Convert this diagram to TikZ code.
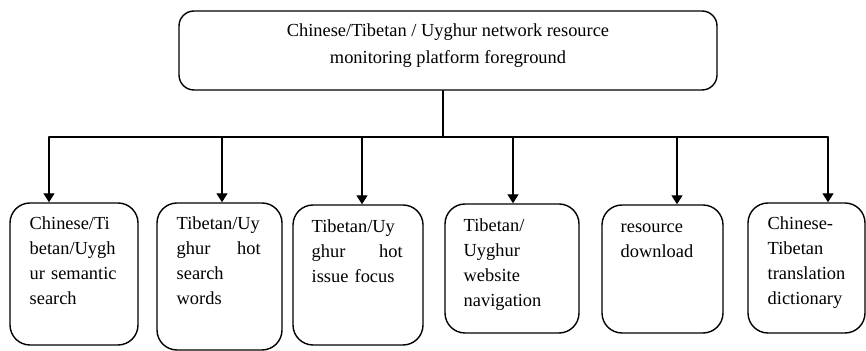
\documentclass[tikz,border=0pt]{standalone}
\usepackage{fontspec}
\setmainfont{Liberation Serif}
\usetikzlibrary{arrows.meta, positioning}

\tikzset{
  frame/.style={draw, line width=0.7pt, inner sep=0pt},
  headbox/.style={frame, rounded corners=7.5pt},
  leafbox/.style={frame, rounded corners=10pt},
  headtext/.style={inner sep=0pt, align=center, font=\fontsize{9.2}{13.5}\selectfont},
  leaftext/.style={inner sep=0pt, text width=#1, align=left,
    font=\fontsize{9.2}{12.5}\selectfont, execute at begin node={\rule{0pt}{6.3pt}}},
  wire/.style={line width=0.7pt},
  feed/.style={line width=0.7pt, -{Triangle[length=4.5pt, width=5.5pt]}}
}

\begin{document}
\begin{tikzpicture}[x=0.5pt, y=-0.5pt, line cap=round]
  \useasboundingbox (0,0) rectangle (866,351);

  % platform foreground
  \node[headbox, minimum width=269pt, minimum height=39.5pt] (top) at (448,50.5) {};
  \node[headtext, below=6.6pt of top.north] (toplabel)
    {Chinese/Tibetan / Uyghur network resource\\monitoring platform foreground};

  % modules
  \node[leafbox, minimum width=64pt,   minimum height=71pt]   (b1) at (74,274) {};
  \node[leafbox, minimum width=62.5pt, minimum height=73.5pt] (b2) at (219.5,276.5) {};
  \node[leafbox, minimum width=65pt,   minimum height=70pt]   (b3) at (358,275) {};
  \node[leafbox, minimum width=67pt,   minimum height=64.5pt] (b4) at (512,268.5) {};
  \node[leafbox, minimum width=60.5pt, minimum height=64pt]   (b5) at (662.5,269) {};
  \node[leafbox, minimum width=58.5pt, minimum height=65pt]   (b6) at (806.5,268) {};

  \node[leaftext=45pt, below right=6.8pt and 10pt of b1.north west] (t1)
    {Chinese/Ti\\betan/Uygh\\ur semantic\\search};
  \node[leaftext=42pt, below right=6.8pt and 10pt of b2.north west] (t2)
    {Tibetan/Uy\\ghur\hfill hot\\search\\words};
  \node[leaftext=45.5pt, below right=7.5pt and 9.5pt of b3.north west] (t3)
    {Tibetan/Uy\\ghur\hfill hot\\issue focus};
  \node[leaftext=45pt, below right=7.5pt and 9.5pt of b4.north west] (t4)
    {Tibetan/\\Uyghur\\website\\navigation};
  \node[leaftext=45pt, below right=7.5pt and 9.5pt of b5.north west] (t5)
    {resource\\download};
  \node[leaftext=45pt, below right=7pt and 10pt of b6.north west] (t6)
    {Chinese-\\Tibetan\\translation\\dictionary};

  % bus
  \coordinate (hub) at (443,137);
  \coordinate (j1) at (49,137);
  \coordinate (j2) at (222,137);
  \coordinate (j3) at (362,137);
  \coordinate (j4) at (513,137);
  \coordinate (j5) at (677,137);
  \coordinate (j6) at (828,137);

  \draw[wire] (top.south -| hub) -- (hub);
  \draw[wire] (j1) -- (j6);
  \foreach \i in {1,...,6}
    \draw[feed] (j\i) -- (j\i |- b\i.north);
\end{tikzpicture}
\end{document}
